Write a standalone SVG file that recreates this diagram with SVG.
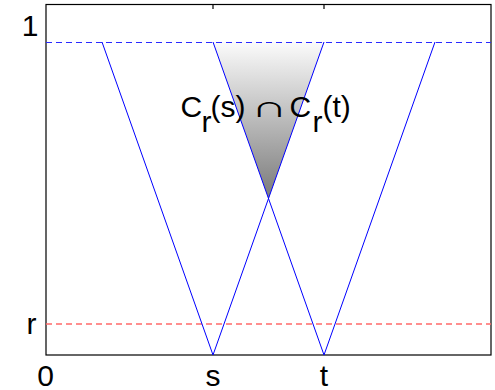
<svg xmlns="http://www.w3.org/2000/svg" width="495" height="390" viewBox="0 0 495 390">
<style>
  text { font-family: "Liberation Sans", Arial, sans-serif; font-size: 30px; fill: #000; }
  .cone { fill: none; stroke: #0000ff; stroke-width: 1; }
  .axis { fill: none; stroke: #000; stroke-width: 1.2; }
</style>
<defs>
  <linearGradient id="shade" x1="0" y1="42" x2="0" y2="198.5" gradientUnits="userSpaceOnUse">
    <stop offset="0" stop-color="#fbfbfb"/>
    <stop offset="1" stop-color="#7a7a7a"/>
  </linearGradient>
</defs>
<rect width="495" height="390" fill="#fff"/>
<g id="intersection">
  <polygon points="213,42 324,42 268.5,198.5" fill="url(#shade)"/>
</g>
<g id="axes">
  <rect class="axis" x="46" y="4.5" width="445" height="350.5"/>
  <line class="axis" x1="213" y1="4.5" x2="213" y2="9"/>
  <line class="axis" x1="324" y1="4.5" x2="324" y2="9"/>
</g>
<g id="levels">
  <line x1="46" y1="42.5" x2="491" y2="42.5" stroke="#2a2aff" stroke-width="1" stroke-dasharray="6,4"/>
  <line x1="46" y1="324" x2="491" y2="324" stroke="#ff6a6a" stroke-width="1.6" stroke-dasharray="6,4"/>
</g>
<g id="cone-s">
  <polyline class="cone" points="102,42 213,355 324,42"/>
</g>
<g id="cone-t">
  <polyline class="cone" points="213,42 324,355 435,42"/>
</g>
<g id="labels">
  <text x="30" y="35.5" text-anchor="middle">1</text>
  <text x="31.5" y="334" text-anchor="middle">r</text>
  <text x="45.5" y="386" text-anchor="middle">0</text>
  <text x="213" y="385.5" text-anchor="middle">s</text>
  <text x="324" y="385.5" text-anchor="middle">t</text>
  <text y="116.5"><tspan x="180.5">C</tspan><tspan x="201.5" y="131.5">r</tspan><tspan x="210.5" y="116.5">(s)</tspan><tspan x="289.5">C</tspan><tspan x="312.5" y="131.5">r</tspan><tspan x="322.5" y="116.5">(t)</tspan></text>
  <text transform="translate(251,116.5) scale(1.7,1)">∩</text>
</g>
</svg>
